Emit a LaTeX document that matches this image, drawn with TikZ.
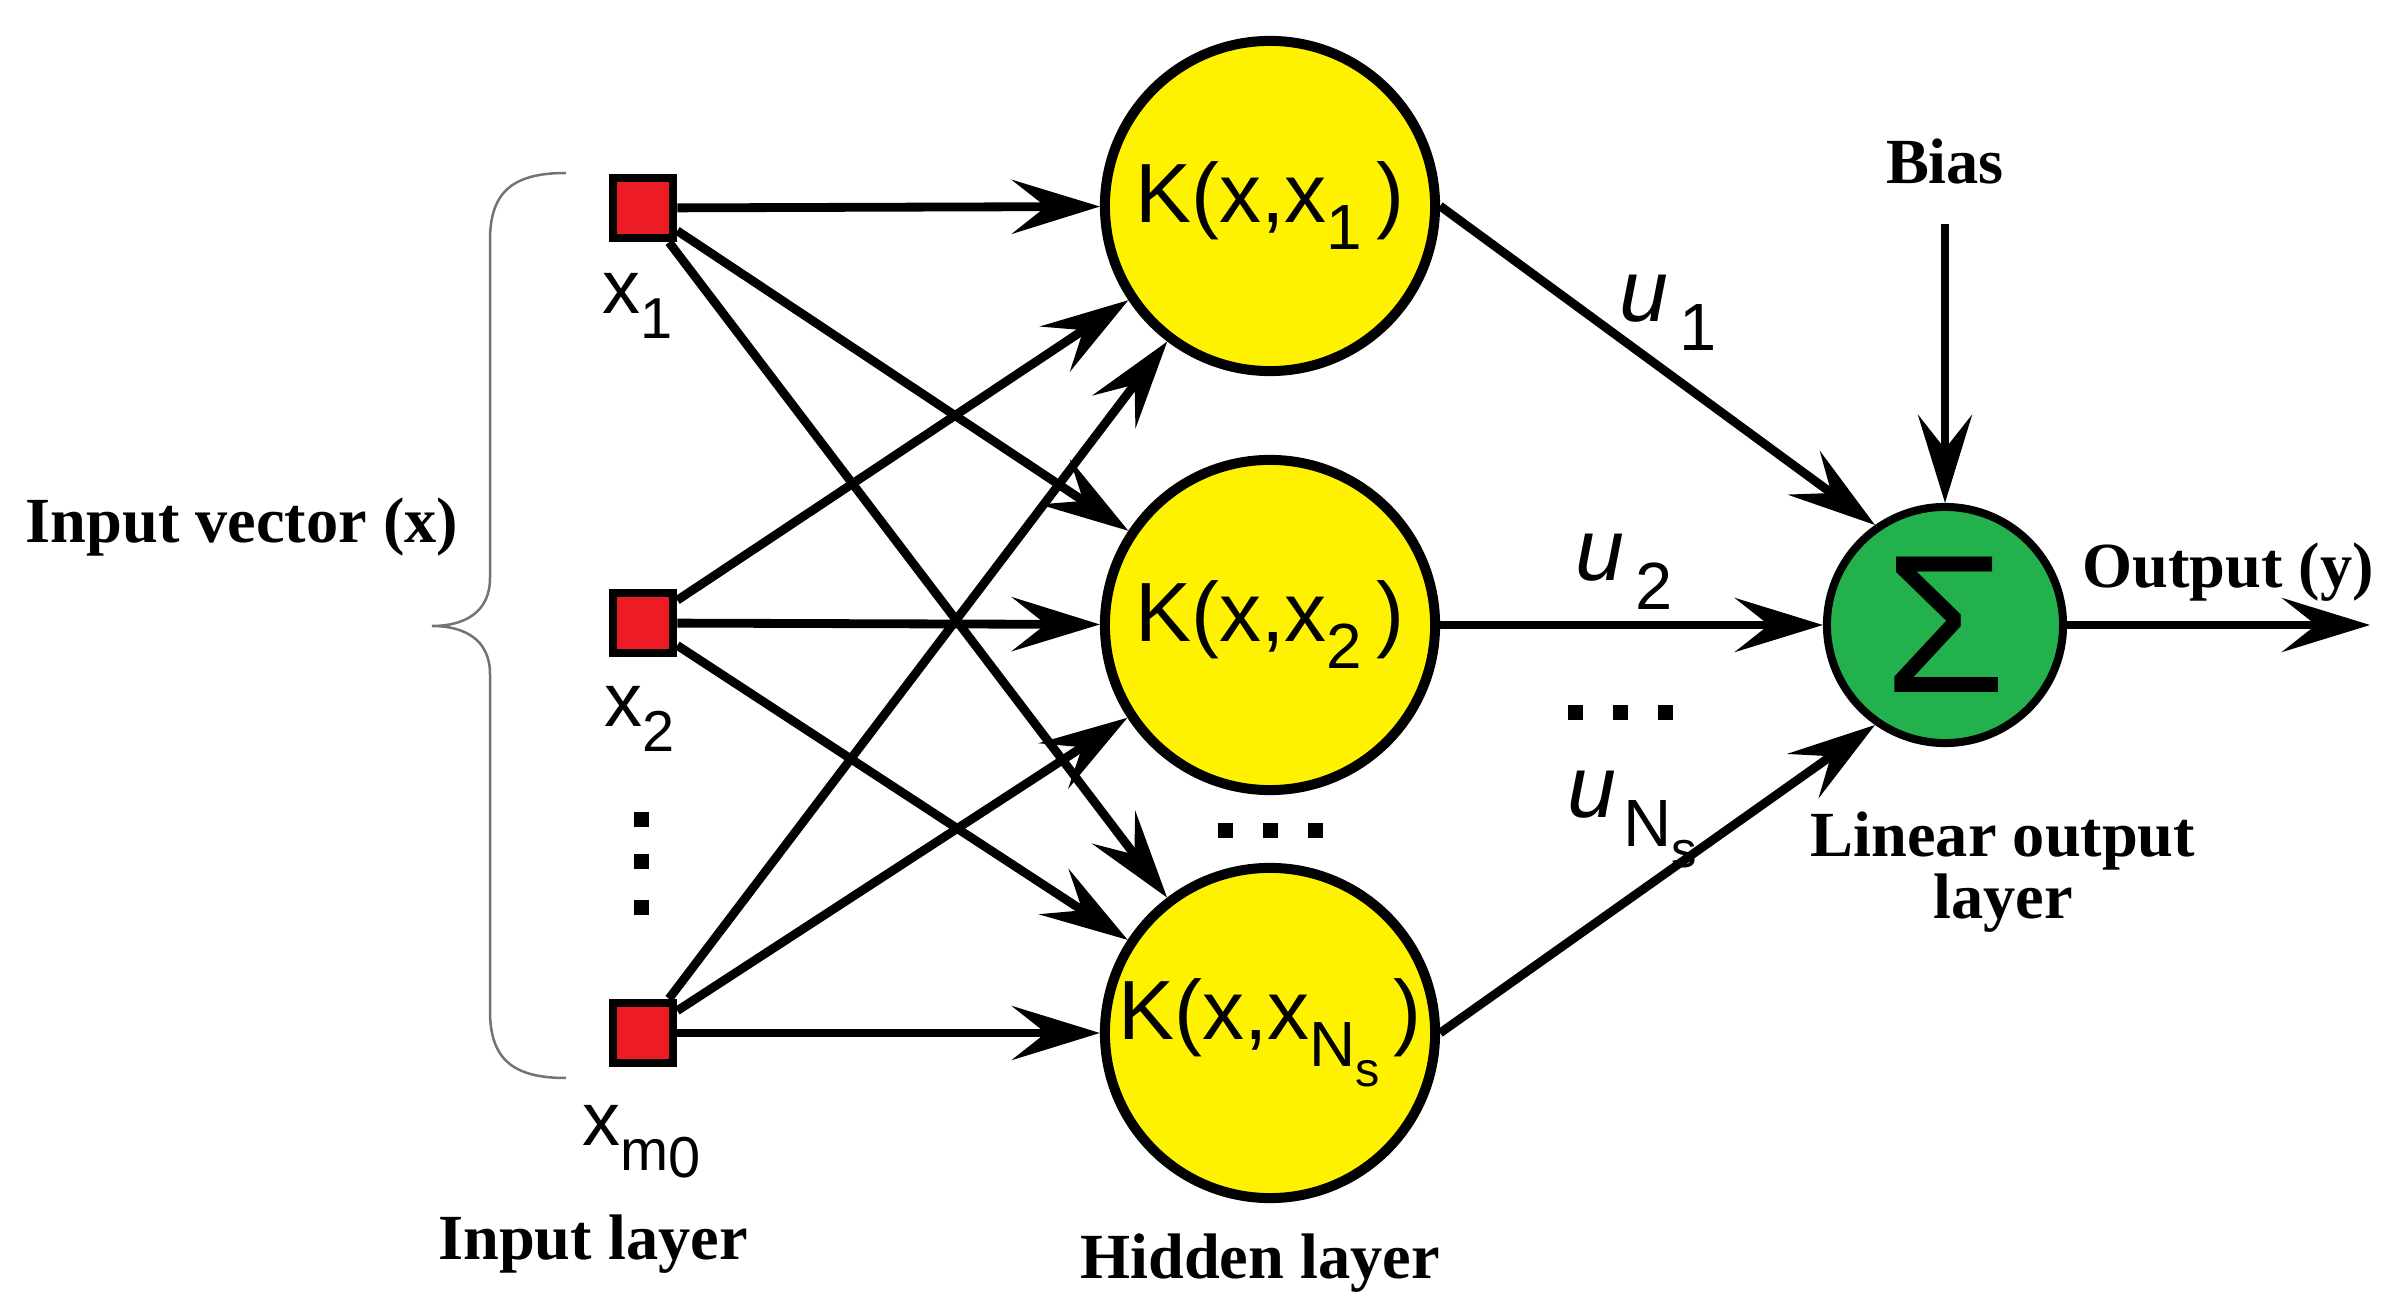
\documentclass[tikz,border=0pt]{standalone}
\usepackage{fontspec}
\setmainfont{Liberation Sans}
\newfontfamily\lblfont{Liberation Serif}
\usetikzlibrary{arrows.meta,positioning}
\definecolor{inred}{RGB}{237,28,36}
\definecolor{kyellow}{RGB}{255,242,0}
\definecolor{sgreen}{RGB}{34,177,76}
\newcommand{\lsub}[1]{\raisebox{-0.32em}{\scalebox{0.76}{#1}}}

\begin{document}
\begin{tikzpicture}[x=0.01cm,y=-0.01cm,
  inp/.style={draw,fill=inred,line width=0.085cm,minimum size=0.6cm,inner sep=0pt},
  kern/.style={circle,draw,fill=kyellow,line width=0.1cm,minimum size=3.3cm,inner sep=0pt,font=\fontsize{23.9}{24}\selectfont},
  sumnode/.style={circle,draw,fill=sgreen,line width=0.08cm,minimum size=2.36cm,inner sep=0pt,font=\fontsize{56}{56}\selectfont},
  arr/.style={-{Stealth[length=0.88cm,width=0.54cm,inset=0.34cm]},line width=0.088cm},
  lbl/.style={font=\lblfont\bfseries\fontsize{18.3}{17.5}\selectfont},
  xlbl/.style={anchor=base,font=\fontsize{21.6}{22}\selectfont},
  ulbl/.style={anchor=base,font=\itshape\fontsize{25}{25}\selectfont}]

\useasboundingbox (0,0) rectangle (2396,1316);

\foreach \i/\y in {1/208,2/623,3/1033}
  \node[inp] (x\i) at (643,\y) {};
\foreach \i/\y/\kx in {1/206/{1},2/625/{2},3/1033/{N\lsub{s}}}
  \node[kern] (k\i) at (1270,\y) {K(x,x\lsub{\kx}\,)};
\node[sumnode] (sum) at (1945,625) {Σ};

\foreach \i in {1,2,3}
  \foreach \j in {1,2,3}
    \draw[arr] (x\i) -- (k\j);

\draw[arr] (k1.east) -- (sum.125);
\draw[arr] (k2) -- (sum);
\draw[arr] (k3.east) -- (sum.235);

\node[lbl] (bias) at (1945,161) {Bias};
\draw[arr,shorten <=0.28cm] (bias) -- (sum);
\coordinate (yout) at (2370,625);
\draw[arr] (sum) -- (yout);

\node[xlbl] (lx1) at (638,314) {x\lsub{1}};
\node[xlbl] (lx2) at (640,727) {x\lsub{2}};
\node[xlbl] (lx3) at (642,1146) {x\lsub{m\raisebox{-0.12em}{0}}};

\node[ulbl] (u1) at (1668,322) {u\kern0.12em\upshape\lsub{1}};
\node[ulbl] (u2) at (1624,581) {u\kern0.12em\upshape\lsub{2}};
\node[ulbl] (u3) at (1632,818) {u\kern0.08em\upshape\lsub{N\lsub{s}}};

\foreach \y in {819,861,907}
  \fill[shift={(641,\y)}] (-7,-7) rectangle (8,8);
\foreach \x in {1225,1270,1315}
  \fill[shift={(\x,830)}] (-7,-7) rectangle (8,8);
\foreach \x in {1575,1620,1665}
  \fill[shift={(\x,712)}] (-7,-7) rectangle (8,8);

\draw[black!55,line width=0.025cm] (566,173) .. controls (515,173) and (490,190) .. (490,240)
  -- (490,578) .. controls (490,612) and (465,626) .. (432,626)
  .. controls (465,626) and (490,640) .. (490,674)
  -- (490,1011) .. controls (490,1061) and (515,1078) .. (566,1078);

\node[lbl] (invec) at (242,527) {Input vector (x)};
\node[lbl] (inl) at (593,1244) {Input layer};
\node[lbl] (hidl) at (1260,1263) {Hidden layer};
\node[lbl] (outl) at (2228,572) {Output (y)};
\node[lbl,align=center] (linl) at (2003,872) {Linear output\\layer};

\end{tikzpicture}
\end{document}
